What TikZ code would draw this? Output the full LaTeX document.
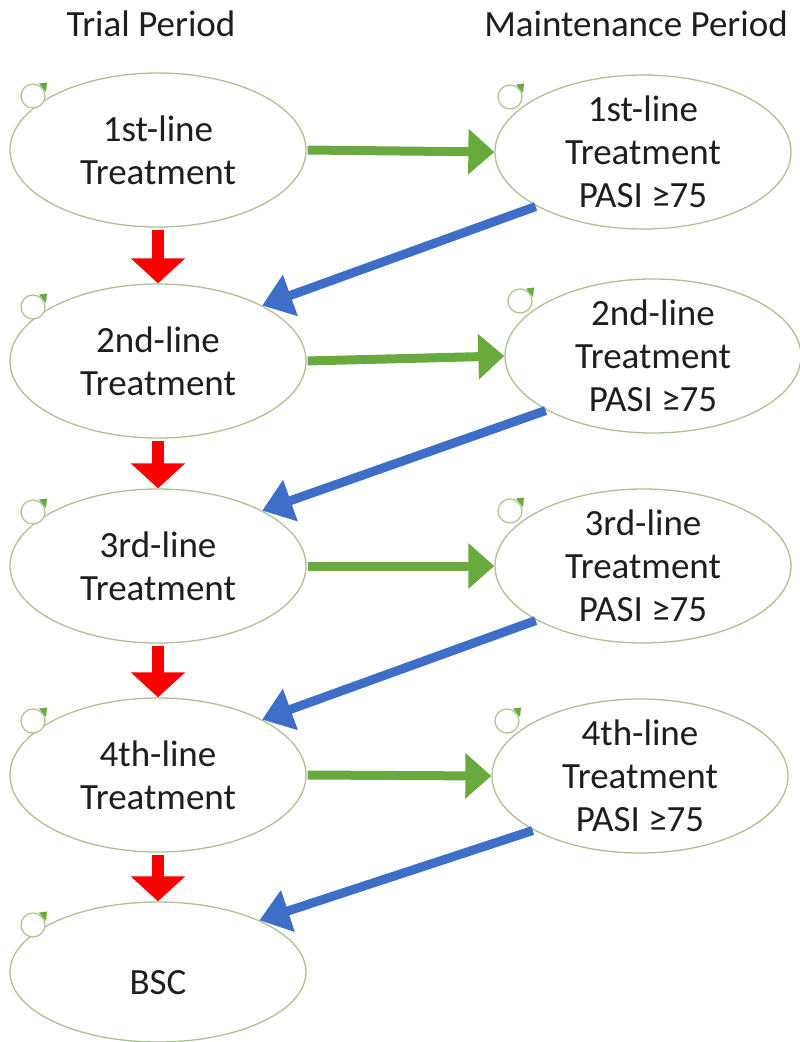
\documentclass[tikz,border=0pt]{standalone}
\usepackage{fontspec}
\setmainfont{Carlito}
\usetikzlibrary{arrows.meta,shapes.geometric,calc}
\definecolor{ellcol}{RGB}{170,195,145}
\definecolor{grn}{RGB}{104,170,62}
\definecolor{blu}{RGB}{62,110,200}
\definecolor{redc}{RGB}{250,0,0}
\definecolor{txtc}{RGB}{30,30,30}
\tikzset{
  ell/.style={ellipse,draw=ellcol,line width=1.3pt,minimum width=296pt,minimum height=154pt,inner sep=0pt},
  lbl/.style={align=center,text=txtc,font=\fontsize{37}{43}\selectfont,inner sep=0pt},
  garrow/.style={draw=grn,line width=9pt,-{Triangle[length=26pt,width=44pt,fill=grn]},shorten <=1pt},
  barrow/.style={draw=blu,line width=9pt,-{Triangle[length=30pt,width=42pt,fill=blu]},shorten <=1pt},
  rarrow/.style={draw=redc,line width=12pt,-{Triangle[length=25pt,width=53pt,fill=redc]},shorten <=2pt},
  loopc/.style={circle,draw=ellcol,line width=1.2pt,minimum size=24pt,inner sep=0pt,fill=white},
}
\newcommand{\selfloop}[3]{%
  \node[loopc] (#1) at ($(#2.center)+#3$) {};
  \fill[grn] ($(#1.center)+(6,-12.5)$) -- ($(#1.center)+(14,-13.5)$) -- ($(#1.center)+(13,-4)$) -- cycle;
}
\begin{document}
\begin{tikzpicture}[x=1pt,y=-1pt]
\useasboundingbox (0,0) rectangle (800,1042);
\fill[white] (0,0) rectangle (800,1042);

\node[lbl] (t1) at (151,24) {Trial Period};
\node[lbl] (t2) at (636,24) {Maintenance Period};

% left column
\node[ell] (L1) at (158,150) {};
\node[ell] (L2) at (158,361) {};
\node[ell] (L3) at (158,566) {};
\node[ell] (L4) at (158,775) {};
\node[ell,minimum height=140pt] (L5) at (158,972) {};
\node[lbl] at (L1) {1st-line\\Treatment};
\node[lbl] at (L2) {2nd-line\\Treatment};
\node[lbl] at (L3) {3rd-line\\Treatment};
\node[lbl] at (L4) {4th-line\\Treatment};
\node[lbl] at ($(L5.center)+(0,11)$) {BSC};

% right column
\node[ell] (R1) at (643,152) {};
\node[ell] (R2) at (653,356) {};
\node[ell] (R3) at (643,566) {};
\node[ell] (R4) at (640,776) {};
\node[lbl] at (R1) {1st-line\\Treatment\\PASI ≥75};
\node[lbl] at (R2) {2nd-line\\Treatment\\PASI ≥75};
\node[lbl] at (R3) {3rd-line\\Treatment\\PASI ≥75};
\node[lbl] at (R4) {4th-line\\Treatment\\PASI ≥75};

% self loops
\selfloop{c1}{L1}{(-125,-54)}
\selfloop{c2}{L2}{(-125,-54)}
\selfloop{c3}{L3}{(-125,-54)}
\selfloop{c4}{L4}{(-125,-54)}
\selfloop{c5}{L5}{(-125,-47)}
\selfloop{d1}{R1}{(-133,-55)}
\selfloop{d2}{R2}{(-133,-55)}
\selfloop{d3}{R3}{(-133,-55)}
\selfloop{d4}{R4}{(-133,-55)}

% red arrows
\draw[rarrow] (L1.south) -- (L2.north);
\draw[rarrow] (L2.south) -- (L3.north);
\draw[rarrow] (L3.south) -- (L4.north);
\draw[rarrow] (L4.south) -- (L5.north);

% green arrows
\draw[garrow] (L1.east) -- (R1.west);
\draw[garrow] (L2.east) -- (R2.west);
\draw[garrow] (L3.east) -- (R3.west);
\draw[garrow] (L4.east) -- (R4.west);

% blue arrows
\draw[barrow] (R1.207) -- (L2.28);
\draw[barrow] (R2.207) -- (L3.28);
\draw[barrow] (R3.207) -- (L4.28);
\draw[barrow] (R4.207) -- (L5.27);
\end{tikzpicture}
\end{document}
